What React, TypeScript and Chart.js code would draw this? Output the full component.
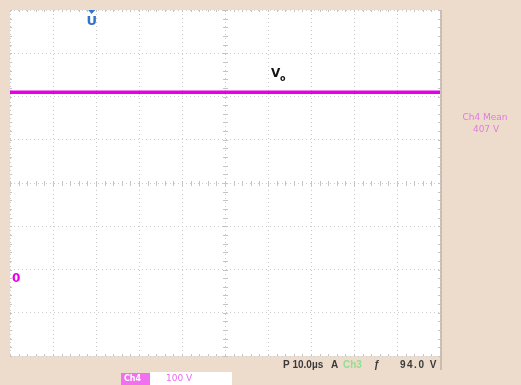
import React, { useEffect, useRef } from "react";
import { Chart, registerables } from "chart.js";

Chart.register(...registerables);

// time axis (µs), 10 µs/div, 10 divisions
const timeUs = [0, 5, 10, 15, 20, 25, 30, 35, 40, 45, 50, 55, 60, 65, 70, 75, 80, 85, 90, 95, 100];
// Ch4 output voltage trace (V), 100 V/div
const ch4Volts = [430, 430, 430, 430, 430, 430, 430, 430, 430, 430, 430, 430, 430, 430, 430, 430, 430, 430, 430, 430, 430];

const xMin = 0;
const xMax = 100;
const xStep = 10;
const yMin = -180;
const yMax = 620;
const yStep = 100;
const triggerPosUs = 19;
const ch4Ground = 0;

const traceLabel = "V";
const traceSub = "o";
const measureTitle = "Ch4 Mean";
const measureValue = "407 V";
const timebase = "P 10.0µs";
const trigText = ["A", "Ch3", "ƒ", "94.0 V"];
const chLabel = "Ch4";
const chScale = "100 V";

const BG = "#eddccb";
const MAG = "#e600e6";

const scopePlugin = {
  id: "scope",
  beforeDraw(chart: any) {
    const { ctx, chartArea: a } = chart;
    ctx.save();
    ctx.fillStyle = BG;
    ctx.fillRect(0, 0, chart.width, chart.height);
    ctx.fillStyle = "#ffffff";
    ctx.fillRect(a.left, a.top, a.right - a.left, a.bottom - a.top);
    ctx.fillStyle = "#cdbcad";
    ctx.fillRect(a.right, a.top, 2, a.bottom - a.top + 14);
    ctx.restore();
  },
  beforeDatasetsDraw(chart: any) {
    const { ctx, chartArea: a, scales } = chart;
    const xs = scales.x;
    const ys = scales.y;
    const cx = xs.getPixelForValue((xMin + xMax) / 2);
    const cy = ys.getPixelForValue(yMin + 4 * yStep);
    ctx.save();
    ctx.strokeStyle = "#c4c4c4";
    ctx.lineWidth = 1;
    ctx.setLineDash([]);
    ctx.beginPath();
    for (let v = xMin; v <= xMax + 0.001; v += xStep / 5) {
      const px = Math.round(xs.getPixelForValue(v)) + 0.5;
      ctx.moveTo(px, cy - 2);
      ctx.lineTo(px, cy + 3);
    }
    for (let v = yMin; v <= yMax + 0.001; v += yStep / 5) {
      const py = Math.round(ys.getPixelForValue(v)) + 0.5;
      ctx.moveTo(cx - 2, py);
      ctx.lineTo(cx + 3, py);
    }
    for (let v = xMin; v <= xMax + 0.001; v += xStep / 5) {
      const px = Math.round(xs.getPixelForValue(v)) + 0.5;
      ctx.moveTo(px, a.top);
      ctx.lineTo(px, a.top + 2);
      ctx.moveTo(px, a.bottom - 2);
      ctx.lineTo(px, a.bottom);
    }
    for (let v = yMin; v <= yMax + 0.001; v += yStep / 5) {
      const py = Math.round(ys.getPixelForValue(v)) + 0.5;
      ctx.moveTo(a.left, py);
      ctx.lineTo(a.left + 2, py);
      ctx.moveTo(a.right - 2, py);
      ctx.lineTo(a.right, py);
    }
    ctx.stroke();
    ctx.restore();
  },
  afterDatasetsDraw(chart: any) {
    const { ctx, chartArea: a, scales } = chart;
    const xs = scales.x;
    const ys = scales.y;
    ctx.save();
    // trigger position marker
    const tx = xs.getPixelForValue(triggerPosUs);
    ctx.fillStyle = "#2f74c8";
    ctx.beginPath();
    ctx.moveTo(tx - 3.5, a.top);
    ctx.lineTo(tx + 3.5, a.top);
    ctx.lineTo(tx, a.top + 4);
    ctx.closePath();
    ctx.fill();
    ctx.font = "bold 13px 'DejaVu Sans', sans-serif";
    ctx.textAlign = "center";
    ctx.textBaseline = "middle";
    ctx.fillText("U", tx, a.top + 12);
    // ground marker
    ctx.fillStyle = MAG;
    ctx.font = "bold 12px 'DejaVu Sans', sans-serif";
    ctx.textAlign = "left";
    ctx.fillText("0", a.left + 2, ys.getPixelForValue(ch4Ground) + 1);
    // trace label
    ctx.fillStyle = "#111";
    ctx.font = "bold 12px 'DejaVu Sans', sans-serif";
    ctx.fillText(traceLabel, xs.getPixelForValue(50) + 46, ys.getPixelForValue(ch4Volts[0]) - 18);
    ctx.font = "bold 8px 'DejaVu Sans', sans-serif";
    ctx.fillText(traceSub, xs.getPixelForValue(50) + 55, ys.getPixelForValue(ch4Volts[0]) - 13);
    // measurement readout
    ctx.fillStyle = "#e27ae2";
    ctx.font = "9px 'DejaVu Sans', sans-serif";
    ctx.textAlign = "center";
    ctx.fillText(measureTitle, 485, 118);
    ctx.fillText(measureValue, 486, 130);
    // bottom status row
    const rowY = a.bottom + 9;
    ctx.font = "bold 10px 'Liberation Sans', Arial, sans-serif";
    ctx.textAlign = "left";
    ctx.fillStyle = "#3a3a3a";
    ctx.fillText(timebase, 283, rowY);
    ctx.fillText(trigText[0], 331, rowY);
    ctx.fillStyle = "#8fe08f";
    ctx.fillText(trigText[1], 343, rowY);
    ctx.fillStyle = "#3a3a3a";
    ctx.fillText(trigText[2], 374, rowY);
    (ctx as any).letterSpacing = "1.5px";
    ctx.fillText(trigText[3], 400, rowY);
    (ctx as any).letterSpacing = "0px";
    // channel scale row
    const r2 = a.bottom + 16;
    ctx.fillStyle = "#ffffff";
    ctx.fillRect(150, r2, 82, chart.height - r2);
    ctx.fillStyle = "#f070f0";
    ctx.fillRect(121, r2 + 1, 29, chart.height - r2 - 1);
    ctx.fillStyle = "#ffffff";
    ctx.font = "bold 8px 'DejaVu Sans', sans-serif";
    ctx.fillText(chLabel, 124, r2 + 7);
    ctx.fillStyle = "#ea6aea";
    ctx.font = "9px 'DejaVu Sans', sans-serif";
    ctx.fillText(chScale, 166, r2 + 7);
    ctx.restore();
  },
};

export default function App() {
  const ref = useRef<HTMLCanvasElement>(null);
  useEffect(() => {
    const canvas = ref.current!;
    const gridTicks = (min: number, max: number, step: number) => {
      const out: any[] = [];
      for (let v = min; v <= max + 0.001; v += step) out.push({ value: v });
      return out;
    };
    const chart = new Chart(canvas, {
      type: "line",
      data: {
        labels: timeUs,
        datasets: [
          {
            data: timeUs.map((t, i) => ({ x: t, y: ch4Volts[i] })),
            borderColor: MAG,
            borderWidth: 3.5,
            pointRadius: 0,
            tension: 0,
          },
        ],
      },
      options: {
        animation: false,
        responsive: false,
        devicePixelRatio: 1,
        layout: { padding: { left: 10, top: 10, right: 81, bottom: 29 } },
        plugins: { legend: { display: false }, tooltip: { enabled: false } },
        scales: {
          x: {
            type: "linear",
            min: xMin,
            max: xMax,
            afterBuildTicks: (s: any) => {
              s.ticks = gridTicks(xMin, xMax, xStep);
            },
            ticks: { display: false },
            grid: { color: "#cccccc", lineWidth: 1, drawTicks: false },
            border: { display: false, dash: [1, 3] },
          },
          y: {
            type: "linear",
            min: yMin,
            max: yMax,
            afterBuildTicks: (s: any) => {
              s.ticks = gridTicks(yMin, yMax, yStep);
            },
            ticks: { display: false },
            grid: { color: "#cccccc", lineWidth: 1, drawTicks: false },
            border: { display: false, dash: [1, 3] },
          },
        },
      },
      plugins: [scopePlugin],
    });
    return () => chart.destroy();
  }, []);
  return (
    <div style={{ position: "fixed", left: 0, top: 0, width: 521, height: 385 }}>
      <canvas ref={ref} width={521} height={385} style={{ display: "block" }} />
    </div>
  );
}
